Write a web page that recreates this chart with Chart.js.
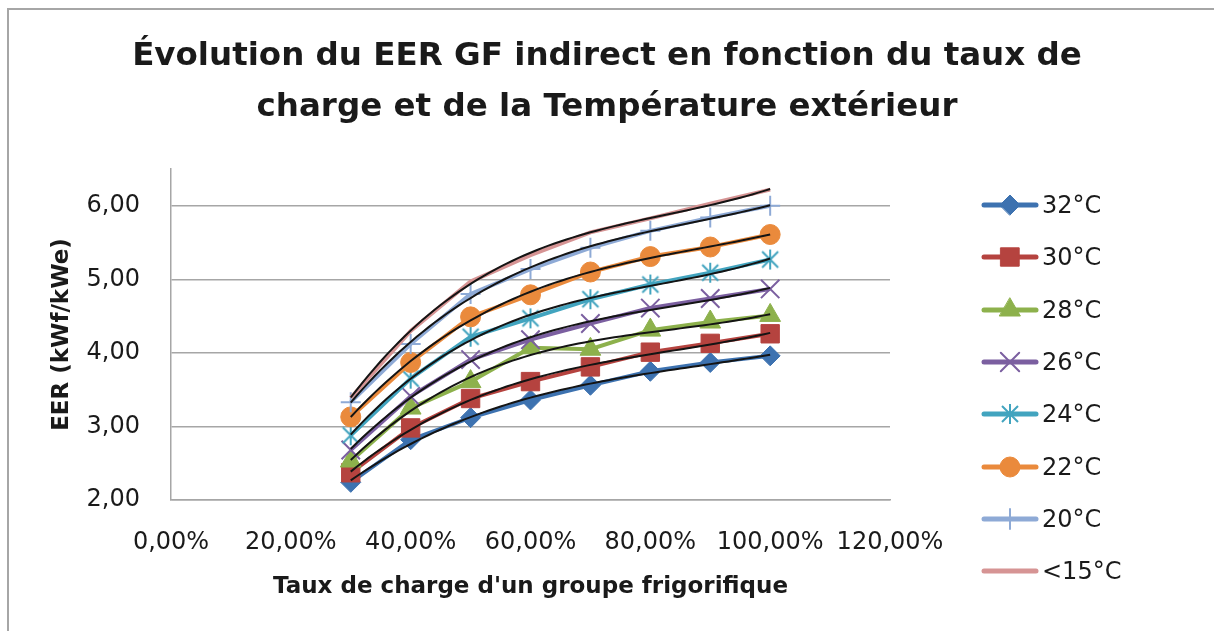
<!DOCTYPE html>
<html lang="fr">
<head>
<meta charset="utf-8">
<title>Évolution du EER GF indirect</title>
<script src="https://cdn.jsdelivr.net/npm/chart.js@4.4.1/dist/chart.umd.min.js"></script>
<style>
    html, body { margin: 0; padding: 0; background: #fff; overflow: hidden; }
    .frame {
        position: absolute; left: 7px; top: 8px; width: 1230px; height: 640px;
        border-left: 2px solid #a6a6a6; border-top: 2px solid #a6a6a6;
    }
    .chart-box { position: absolute; left: 0; top: 0; width: 1214px; height: 631px; }
    .legend {
        position: absolute; left: 981px; top: 179px; margin: 0; padding: 0; list-style: none;
        font: 24px "DejaVu Sans", sans-serif; color: #1a1a1a;
    }
    .legend li { display: flex; align-items: center; height: 52.3px; }
    .legend canvas { margin-right: 3px; }
</style>
</head>
<body>
<div class="frame"></div>
<div class="chart-box"><canvas id="eerChart"></canvas></div>
<ul class="legend" id="eerLegend"></ul>
<script>
(function () {
    // taux de charge du groupe (fraction)
    const loadRates = [0.3, 0.4, 0.5, 0.6, 0.7, 0.8, 0.9, 1.0];

    // EER (kWf/kWe) par température extérieure
    const eer32 = [2.24, 2.82, 3.12, 3.36, 3.56, 3.75, 3.87, 3.96];
    const eer30 = [2.37, 2.98, 3.38, 3.61, 3.81, 4.01, 4.13, 4.26];
    const eer28 = [2.53, 3.25, 3.61, 4.07, 4.05, 4.31, 4.42, 4.51];
    const eer26 = [2.68, 3.41, 3.91, 4.18, 4.40, 4.61, 4.74, 4.87];
    const eer24 = [2.88, 3.65, 4.22, 4.47, 4.73, 4.93, 5.09, 5.27];
    const eer22 = [3.13, 3.87, 4.49, 4.79, 5.10, 5.31, 5.44, 5.61];
    const eer20 = [3.33, 4.12, 4.80, 5.14, 5.43, 5.66, 5.84, 6.00];
    const eer15 = [3.39, 4.30, 4.97, 5.33, 5.64, 5.83, 6.03, 6.22];

    const seriesLabels = ["32°C", "30°C", "28°C", "26°C", "24°C", "22°C", "20°C", "<15°C"];
    const seriesValues = [eer32, eer30, eer28, eer26, eer24, eer22, eer20, eer15];

    const xTickValues = [0, 0.2, 0.4, 0.6, 0.8, 1.0, 1.2];
    const yTickValues = [2, 3, 4, 5, 6];

    const FONT = "'DejaVu Sans', sans-serif";
    const TEXT = "#1a1a1a";
    const GRID = "#a6a6a6";

    const colors = ["#3d72b0", "#b5433f", "#8db14c", "#7b5fa0", "#42a4bf", "#ea8a3c", "#8eaad6", "#d69494"];

    // asterisque façon Excel : croix en X + trait vertical
    function asterisk(color) {
        const c = document.createElement("canvas");
        c.width = 22; c.height = 22;
        const g = c.getContext("2d");
        g.strokeStyle = color;
        g.lineWidth = 2;
        g.beginPath();
        g.moveTo(3, 3); g.lineTo(19, 19);
        g.moveTo(19, 3); g.lineTo(3, 19);
        g.moveTo(11, 1); g.lineTo(11, 21);
        g.stroke();
        return c;
    }

    const markers = [
        { style: "rectRot", radius: 10, border: 1 },
        { style: "rect", radius: 13, border: 1 },
        { style: "triangle", radius: 12, border: 1 },
        { style: "crossRot", radius: 13, border: 2 },
        { style: asterisk(colors[4]), radius: 11, border: 0 },
        { style: "circle", radius: 10, border: 1 },
        { style: "cross", radius: 10, border: 2 },
        { style: false, radius: 0, border: 0 },
    ];

    const datasets = seriesValues.map(function (values, i) {
        return {
            label: seriesLabels[i],
            data: loadRates.map(function (x, k) { return { x: x, y: values[k] }; }),
            showLine: true,
            tension: 0,
            borderColor: colors[i],
            backgroundColor: colors[i],
            borderWidth: 4,
            pointStyle: markers[i].style,
            pointRadius: markers[i].radius,
            pointHoverRadius: markers[i].radius,
            pointBorderWidth: markers[i].border,
            pointBackgroundColor: colors[i],
            pointBorderColor: colors[i],
            order: seriesValues.length - i,
        };
    });

    // courbe de tendance polynomiale, moindres carrés
    const TREND_ORDER = 3;

    function polyFit(xs, ys, order) {
        const n = order + 1;
        const m = [];
        for (let i = 0; i < n; i++) {
            m.push(new Array(n + 1).fill(0));
        }
        xs.forEach(function (x, k) {
            for (let i = 0; i < n; i++) {
                for (let j = 0; j < n; j++) m[i][j] += Math.pow(x, i + j);
                m[i][n] += Math.pow(x, i) * ys[k];
            }
        });
        for (let i = 0; i < n; i++) {
            for (let r = i + 1; r < n; r++) {
                const f = m[r][i] / m[i][i];
                for (let c = i; c <= n; c++) m[r][c] -= f * m[i][c];
            }
        }
        const coef = new Array(n).fill(0);
        for (let i = n - 1; i >= 0; i--) {
            let v = m[i][n];
            for (let j = i + 1; j < n; j++) v -= m[i][j] * coef[j];
            coef[i] = v / m[i][i];
        }
        return coef;
    }

    function polyAt(coef, x) {
        return coef.reduce(function (sum, c, i) { return sum + c * Math.pow(x, i); }, 0);
    }

    const trendLines = {
        id: "trendLines",
        afterDatasetsDraw: function (chart) {
            const ctx = chart.ctx;
            const xs = chart.scales.x;
            const ys = chart.scales.y;
            const x0 = loadRates[0];
            const x1 = loadRates[loadRates.length - 1];
            ctx.save();
            ctx.strokeStyle = "#141414";
            ctx.lineWidth = 2;
            seriesValues.forEach(function (values) {
                const coef = polyFit(loadRates, values, TREND_ORDER);
                ctx.beginPath();
                for (let k = 0; k <= 70; k++) {
                    const x = x0 + (x1 - x0) * k / 70;
                    const px = xs.getPixelForValue(x);
                    const py = ys.getPixelForValue(polyAt(coef, x));
                    if (k === 0) ctx.moveTo(px, py); else ctx.lineTo(px, py);
                }
                ctx.stroke();
            });
            ctx.restore();
        },
    };

    const htmlLegend = {
        id: "htmlLegend",
        afterUpdate: function (chart) {
            const list = document.getElementById("eerLegend");
            list.innerHTML = "";
            chart.data.datasets.forEach(function (ds) {
                const li = document.createElement("li");
                const sym = document.createElement("canvas");
                sym.width = 58; sym.height = 28;
                const g = sym.getContext("2d");
                g.strokeStyle = ds.borderColor;
                g.lineWidth = 5;
                g.lineCap = "round";
                g.beginPath(); g.moveTo(3, 14); g.lineTo(55, 14); g.stroke();
                if (ds.pointRadius > 0) {
                    g.fillStyle = ds.pointBackgroundColor;
                    g.strokeStyle = ds.pointBorderColor;
                    g.lineWidth = ds.pointBorderWidth;
                    Chart.helpers.drawPoint(g, {
                        pointStyle: ds.pointStyle,
                        radius: ds.pointRadius,
                        borderWidth: ds.pointBorderWidth,
                        rotation: 0,
                    }, 29, 14);
                }
                const text = document.createElement("span");
                text.textContent = ds.label;
                li.appendChild(sym);
                li.appendChild(text);
                list.appendChild(li);
            });
        },
    };

    Chart.defaults.font.family = FONT;
    Chart.defaults.color = TEXT;

    new Chart(document.getElementById("eerChart"), {
        type: "scatter",
        data: { datasets: datasets },
        plugins: [trendLines, htmlLegend],
        options: {
            responsive: true,
            maintainAspectRatio: false,
            animation: false,
            layout: { padding: 0 },
            plugins: {
                legend: { display: false },
                tooltip: { enabled: false },
                title: {
                    display: true,
                    text: [
                        "Évolution du EER GF indirect en fonction du taux de",
                        "charge et de la Température extérieur",
                    ],
                    color: TEXT,
                    font: { size: 32.5, weight: "bold", lineHeight: 1.57 },
                    padding: { top: 31, bottom: 36 },
                },
            },
            scales: {
                x: {
                    type: "linear",
                    min: 0,
                    max: 1.2,
                    afterBuildTicks: function (scale) {
                        scale.ticks = xTickValues.map(function (v) { return { value: v }; });
                    },
                    afterFit: function (scale) { scale.height = 131; },
                    grid: { display: false },
                    border: { display: true, color: GRID, width: 1.5 },
                    ticks: {
                        padding: 20,
                        maxRotation: 0,
                        autoSkip: false,
                        font: { size: 24 },
                        callback: function (v) { return (v * 100).toFixed(2).replace(".", ",") + "%"; },
                    },
                    title: {
                        display: true,
                        text: "Taux de charge d'un groupe frigorifique",
                        font: { size: 23, weight: "bold" },
                        padding: { top: 30, bottom: 30 },
                    },
                },
                y: {
                    type: "linear",
                    min: 2,
                    max: 6.5,
                    afterBuildTicks: function (scale) {
                        scale.ticks = yTickValues.map(function (v) { return { value: v }; });
                    },
                    afterFit: function (scale) { scale.width = 171; },
                    grid: { color: GRID, lineWidth: 1.5, drawTicks: false },
                    border: { display: true, color: GRID, width: 1.5 },
                    ticks: {
                        padding: 31,
                        font: { size: 24 },
                        callback: function (v) { return v.toFixed(2).replace(".", ","); },
                    },
                    title: {
                        display: true,
                        text: "EER (kWf/kWe)",
                        font: { size: 23, weight: "bold" },
                        padding: { top: 48, bottom: 0 },
                    },
                },
                // place réservée à la légende HTML, à droite du graphique
                legendSpace: {
                    type: "linear",
                    position: "right",
                    display: true,
                    grid: { display: false },
                    border: { display: false },
                    ticks: { display: false },
                    afterFit: function (scale) { scale.width = 324; },
                },
            },
        },
    });
})();
</script>
</body>
</html>
